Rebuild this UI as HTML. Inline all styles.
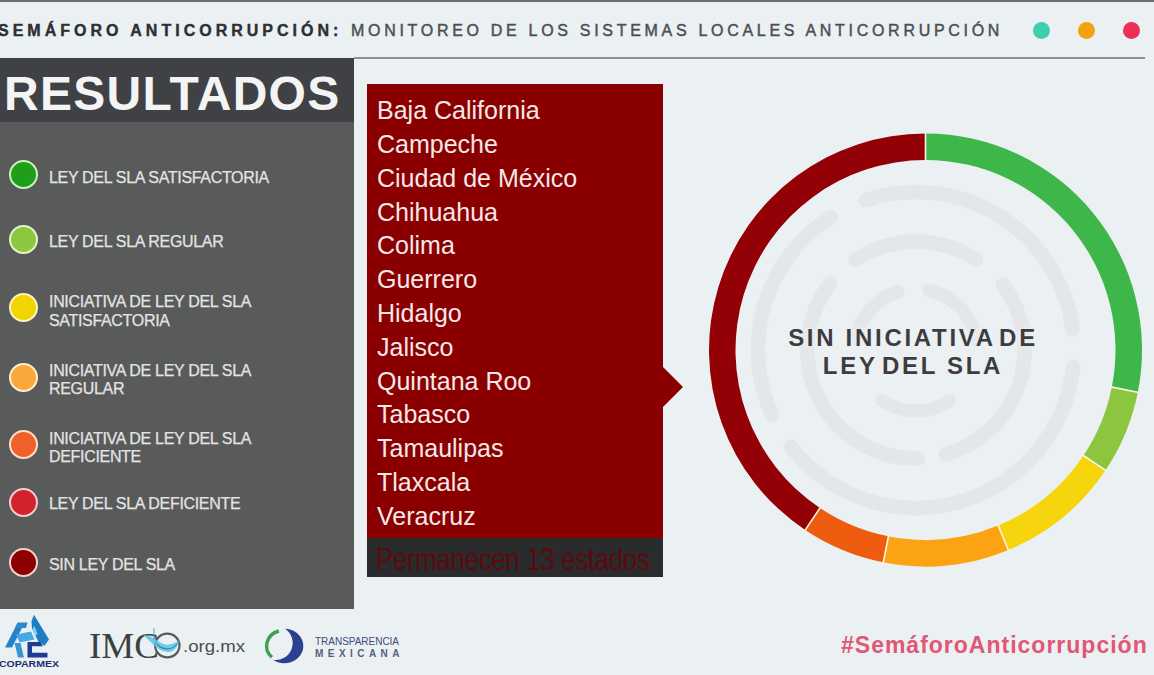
<!DOCTYPE html>
<html><head><meta charset="utf-8">
<style>
html,body{margin:0;padding:0;}
body{width:1154px;height:675px;overflow:hidden;position:relative;background:#ebf0f3;font-family:"Liberation Sans",sans-serif;}
.abs{position:absolute;}
#topline{left:0;top:0;width:1154px;height:2px;background:#6a6f74;}
#hdr{left:-2px;top:22.3px;font-size:16px;letter-spacing:4px;color:#2c2f33;white-space:nowrap;font-weight:bold;-webkit-text-stroke:0.4px #2c2f33;}
#hdr2{left:351px;top:22.3px;font-size:16px;letter-spacing:3.7px;color:#4b4f54;white-space:nowrap;-webkit-text-stroke:0.45px #4b4f54;}
#hline{left:354px;top:57px;width:791px;height:2px;background:#8c9094;}
.dot{width:17px;height:17px;border-radius:50%;top:21.5px;}
#panel{left:0;top:58px;width:354px;height:551px;background:#595a5a;}
#phead{left:0;top:58px;width:354px;height:64px;background:#3f4144;}
#res{left:4px;top:66px;font-size:48px;font-weight:bold;color:#f4f4f4;letter-spacing:1.3px;white-space:nowrap;}
.lg{left:9px;width:25px;height:25px;border-radius:50%;border:2px solid #f0f5e8;}
.lt{left:49px;font-size:16px;color:#e4e4e4;line-height:18.3px;white-space:nowrap;letter-spacing:-0.32px;-webkit-text-stroke:0.25px #e4e4e4;}
#redbox{left:367px;top:84px;width:296px;height:455px;background:#8a0000;}
#darkbox{left:367px;top:538px;width:296px;height:39px;background:#2a2b2d;}
#states{left:377px;top:94.3px;font-size:25px;line-height:33.8px;color:#f6e8e8;white-space:nowrap;}
#perm{left:376px;top:541px;font-size:26px;letter-spacing:-0.4px;transform:scaleY(1.22);transform-origin:0 0;color:#5c0a0e;white-space:nowrap;}
#center{left:713px;top:323.5px;width:400px;text-align:center;font-size:24px;font-weight:bold;line-height:28.7px;letter-spacing:2.7px;color:#3c3d40;text-shadow:0 0 3px #edf0f2,0 0 6px #edf0f2,0 0 9px #edf0f2;}
#hash{left:841px;top:632px;font-size:23px;font-weight:bold;color:#e25676;letter-spacing:1px;white-space:nowrap;}
</style></head>
<body>
<div class="abs" id="topline"></div>
<div class="abs" id="hdr">SEMÁFORO ANTICORRUPCIÓN:</div>
<div class="abs" id="hdr2">MONITOREO DE LOS SISTEMAS LOCALES ANTICORRUPCIÓN</div>
<div class="abs" id="hline"></div>
<div class="abs dot" style="left:1033px;background:#3fcfae"></div>
<div class="abs dot" style="left:1078px;background:#f5a212"></div>
<div class="abs dot" style="left:1123px;background:#ee2e55"></div>

<div class="abs" id="panel"></div>
<div class="abs" id="phead"></div>
<div class="abs" id="res">RESULTADOS</div>

<div class="abs lg" style="top:160px;background:#1f9e1a;border-color:#c9f2bd"></div>
<div class="abs lt" style="top:168.5px">LEY DEL SLA SATISFACTORIA</div>
<div class="abs lg" style="top:225px;background:#8dc63f;border-color:#e3f5c8"></div>
<div class="abs lt" style="top:233px">LEY DEL SLA REGULAR</div>
<div class="abs lg" style="top:292.5px;background:#f2d500;border-color:#fff4c0"></div>
<div class="abs lt" style="top:293.4px">INICIATIVA DE LEY DEL SLA<br>SATISFACTORIA</div>
<div class="abs lg" style="top:362.5px;background:#f8a93a;border-color:#fff0cc"></div>
<div class="abs lt" style="top:361.5px">INICIATIVA DE LEY DEL SLA<br>REGULAR</div>
<div class="abs lg" style="top:429.5px;background:#f0612a;border-color:#ffe0cc"></div>
<div class="abs lt" style="top:429.5px">INICIATIVA DE LEY DEL SLA<br>DEFICIENTE</div>
<div class="abs lg" style="top:487.5px;background:#d2232a;border-color:#f5cdd2"></div>
<div class="abs lt" style="top:495.2px">LEY DEL SLA DEFICIENTE</div>
<div class="abs lg" style="top:547.5px;background:#8c0000;border-color:#f3d0d0"></div>
<div class="abs lt" style="top:555.5px">SIN LEY DEL SLA</div>

<div class="abs" id="redbox"></div>
<svg class="abs" style="left:0;top:0" width="1154" height="675"><polygon points="662,366 683,387 662,408" fill="#8a0000"/></svg>
<div class="abs" id="darkbox"></div>
<div class="abs" id="states">Baja California<br>Campeche<br>Ciudad de México<br>Chihuahua<br>Colima<br>Guerrero<br>Hidalgo<br>Jalisco<br>Quintana Roo<br>Tabasco<br>Tamaulipas<br>Tlaxcala<br>Veracruz</div>
<div class="abs" id="perm">Permanecen 13 estados</div>

<svg class="abs" id="donut" style="left:0;top:0" width="1154" height="675">
<g fill="none" stroke="#e4e6e8" stroke-linecap="round"><path d="M865.6,200.3 A158,158 0 0 1 1072.6,329.1" stroke-width="14.5"/><path d="M1073.1,366.8 A158,158 0 0 1 791.0,446.6" stroke-width="14.5"/><path d="M771.9,414.8 A158,158 0 0 1 830.6,217.0" stroke-width="14.5"/><path d="M855.6,259.8 A108.5,108.5 0 0 1 976.0,259.6" stroke-width="14.5"/><path d="M1002.7,284.7 A108.5,108.5 0 0 1 945.9,454.3" stroke-width="14.5"/><path d="M917.9,458.5 A108.5,108.5 0 0 1 830.5,283.2" stroke-width="14.5"/><path d="M928.7,290.3 A61,61 0 0 1 976.1,339.4" stroke-width="13"/><path d="M855.9,339.4 A61,61 0 0 1 898.2,291.7" stroke-width="13"/><path d="M949.6,400.9 A61,61 0 0 1 881.6,400.4" stroke-width="13"/></g>

<path d="M925.50,133.50 A216.5,216.5 0 0 1 1137.84,392.24 L1111.85,387.07 A190.0,190.0 0 0 0 925.50,160.00 Z" fill="#3db64a"/>
<path d="M1137.84,392.24 A216.5,216.5 0 0 1 1105.51,470.28 L1083.48,455.56 A190.0,190.0 0 0 0 1111.85,387.07 Z" fill="#8cc63f"/>
<path d="M1105.51,470.28 A216.5,216.5 0 0 1 1008.35,550.02 L998.21,525.54 A190.0,190.0 0 0 0 1083.48,455.56 Z" fill="#f6d40e"/>
<path d="M1008.35,550.02 A216.5,216.5 0 0 1 883.26,562.34 L888.43,536.35 A190.0,190.0 0 0 0 998.21,525.54 Z" fill="#fba312"/>
<path d="M883.26,562.34 A216.5,216.5 0 0 1 805.22,530.01 L819.94,507.98 A190.0,190.0 0 0 0 888.43,536.35 Z" fill="#ee5d0f"/>
<path d="M805.22,530.01 A216.5,216.5 0 0 1 925.50,133.50 L925.50,160.00 A190.0,190.0 0 0 0 819.94,507.98 Z" fill="#930005"/>
<line x1="925.50" y1="132.50" x2="925.50" y2="161.00" stroke="#fdf6e0" stroke-width="1.6"/>
<line x1="1138.82" y1="392.43" x2="1110.87" y2="386.87" stroke="#fdf6e0" stroke-width="1.6"/>
<line x1="1106.34" y1="470.84" x2="1082.65" y2="455.00" stroke="#fdf6e0" stroke-width="1.6"/>
<line x1="1008.73" y1="550.94" x2="997.83" y2="524.61" stroke="#fdf6e0" stroke-width="1.6"/>
<line x1="883.07" y1="563.32" x2="888.63" y2="535.37" stroke="#fdf6e0" stroke-width="1.6"/>
<line x1="804.66" y1="530.84" x2="820.50" y2="507.15" stroke="#fdf6e0" stroke-width="1.6"/>

</svg>
<div class="abs" id="center">SIN INICIATIVA<span style="word-spacing:-6px"> </span>DE<br>LEY<span style="word-spacing:-5px"> </span>DEL SLA</div>

<svg class="abs" id="footer" style="left:0;top:0" width="1154" height="675">
<g>
<polygon points="5,647.5 12,647.5 24.5,623 17.5,623" fill="#2383c9"/>
<polygon points="17.5,622.5 27.5,622.5 26,628 15,628" fill="#2a8ad0"/>
<polygon points="34,614.8 49,639.6 44.5,645.8 38.5,642 32,628.5 31.5,621" fill="#1f7dc4"/>
<polygon points="34.5,626 37.5,634 35,636 32.5,629" fill="#7fd0f0"/>
<polygon points="16,634.5 31,631.5 34.5,639.5 19.5,642.5" fill="#49a9e2"/>
<polygon points="14.5,643 20.5,643 24,657.5 18,657.5" fill="#3994d6"/>
<path d="M27.5,642 H40 L43,646.3 H32 V652.8 H47.5 V657.5 H27.5 Z" fill="#1b3e90"/>
</g>
<text x="-1" y="667" font-family="Liberation Sans" font-weight="bold" font-size="9" fill="#1d2f70" textLength="60" lengthAdjust="spacingAndGlyphs">COPARMEX</text>
<text x="89" y="657.5" font-family="Liberation Serif" font-size="35" fill="#3d4043" textLength="70" lengthAdjust="spacingAndGlyphs">IMC</text>
<ellipse cx="167.3" cy="645.5" rx="12.2" ry="11.8" fill="none" stroke="#54595d" stroke-width="2.2"/>
<path d="M143,635 C150,640 156,651 168,652 C175,652 178,646 179,640 C172,646 164,646 158,641 C154,638 149,635 143,635 Z" fill="#5fc3e0" opacity="0.85"/>
<path d="M157,644 C162,650 172,651 177,644" fill="none" stroke="#2a8fb8" stroke-width="1.2"/>
<line x1="154" y1="628" x2="154" y2="640" stroke="#4aa8d0" stroke-width="1"/>
<text x="183" y="652.3" font-family="Liberation Sans" font-size="16" fill="#4a4e52" textLength="62" lengthAdjust="spacingAndGlyphs">.org.mx</text>
<path d="M278.9,631 A17.3,15.6 0 0 0 271.9,657.2" fill="none" stroke="#3f9f55" stroke-width="3.4"/>
<path d="M284.96,628.7 A19,17.3 0 1 1 272.9,659.8 A17.05,17.05 0 0 0 284.96,628.7 Z" fill="#2c3f92"/>
<text x="315" y="645" font-family="Liberation Sans" font-size="11.5" fill="#3f4b78" textLength="84" lengthAdjust="spacingAndGlyphs">TRANSPARENCIA</text>
<text x="315" y="657" font-family="Liberation Sans" font-weight="bold" font-size="10" fill="#56607e" textLength="84.5" lengthAdjust="spacing">MEXICANA</text>
</svg>
<div class="abs" id="hash">#SemáforoAnticorrupción</div>
</body></html>
